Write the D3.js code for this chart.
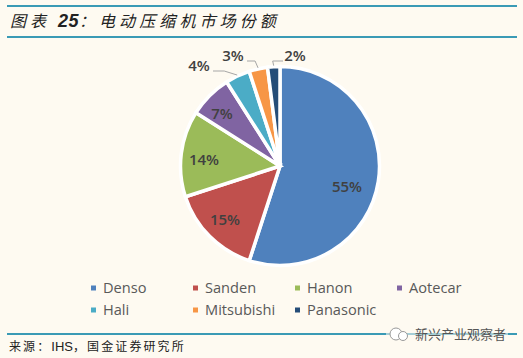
<!DOCTYPE html>
<meta charset="utf-8">
<script src="https://d3js.org/d3.v7.js"></script>
<style>
  html, body { margin: 0; padding: 0; background: #fefaf1; overflow: hidden; }
</style>
<div id="my_dataviz"></div>
<script>
  const names = ["Denso", "Sanden", "Hanon", "Aotecar", "Hali", "Mitsubishi", "Panasonic"]
  const shares = [55, 15, 14, 7, 4, 3, 2]
  const colors = ["#4f81bd", "#c0504d", "#9bbb59", "#8064a2", "#4bacc6", "#f79646", "#254d78"]
  const titleParts = ["图表 ", "25", "\uFF1A电动压缩机市场份额"]
  const sourceParts = ["来源\uFF1A", "IHS", "\uFF0C国金证券研究所"]
  const markText = "新兴产业观察者"

  const width = 523, height = 358
  const center = [280, 166], radius = 99.5
  const txt = "#404040"
  const rule = "#3a9ab5"
  const cjk = "'Noto Sans CJK SC'"

  const svg = d3.select("#my_dataviz").append("svg")
    .attr("width", width).attr("height", height)
    .style("display", "block")

  // header and footer rules
  svg.selectAll("line.rule")
    .data([6, 37, 334])
    .join("line")
      .attr("class", "rule")
      .attr("x1", 7).attr("x2", 517)
      .attr("y1", d => d).attr("y2", d => d)
      .attr("stroke", rule).attr("stroke-width", 2)

  // title, the number is set bigger and bold
  const title = svg.append("text")
    .attr("x", 10).attr("y", 27)
    .attr("font-family", cjk)
    .attr("font-size", 16).attr("font-style", "italic")
    .attr("letter-spacing", 4.1)
    .attr("fill", "#222")
  title.append("tspan").text(titleParts[0])
  title.append("tspan")
    .attr("font-family", "'Liberation Sans'").attr("font-weight", 700)
    .attr("font-size", 18).attr("letter-spacing", 0.5)
    .text(titleParts[1])
  title.append("tspan").text(titleParts[2])

  // pie
  const pie = d3.pie().sort(null).value(d => d)
  const arc = d3.arc().innerRadius(0).outerRadius(radius)
  const slices = pie(shares)
  const g = svg.append("g").attr("transform", `translate(${center[0]},${center[1]})`)

  g.selectAll("path.slice")
    .data(slices)
    .join("path")
      .attr("class", "slice")
      .attr("d", arc)
      .attr("fill", (d, i) => colors[i])
      .attr("stroke", "#fff").attr("stroke-width", 3.5)

  // big slices carry the label inside, small ones get a leader line
  const insidePos = [[67, 21], [-55, 54], [-76, -6], [-58, -52]]
  const outerPos = [[-81, -100], [-47, -110], [15, -110]]
  const leaderEnd = [[-67, -95], [-33, -105], [3, -105]]
  const elbowDx = [-13, -3, -1]

  const pct = sel => sel
    .attr("text-anchor", "middle")
    .attr("font-family", "'Open Sans'")
    .attr("font-size", 15).attr("font-weight", 600)
    .attr("fill", txt)
    .text(d => d.value + "%")

  g.selectAll("text.inner")
    .data(slices.slice(0, 4))
    .join("text")
      .attr("class", "inner")
      .attr("x", (d, i) => insidePos[i][0])
      .attr("y", (d, i) => insidePos[i][1] + 5)
      .call(pct)

  const small = slices.slice(4)
  g.selectAll("path.leader")
    .data(small)
    .join("path")
      .attr("class", "leader")
      .attr("fill", "none").attr("stroke", "#a6a6a6").attr("stroke-width", 1)
      .attr("d", (d, i) => {
        const a = (d.startAngle + d.endAngle) / 2
        const tip = [Math.sin(a) * (radius + 1), -Math.cos(a) * (radius + 1)]
        const end = leaderEnd[i]
        return d3.line()([tip, [tip[0] + elbowDx[i], end[1]], end])
      })
  g.selectAll("text.outer")
    .data(small)
    .join("text")
      .attr("class", "outer")
      .attr("x", (d, i) => outerPos[i][0])
      .attr("y", (d, i) => outerPos[i][1] + 5)
      .call(pct)

  // legend, two rows of four columns
  const colX = d3.scalePoint().domain([0, 1, 2, 3]).range([93, 399])
  const rowY = d3.scalePoint().domain([0, 1]).range([288, 310])
  const legend = svg.selectAll("g.legend")
    .data(names)
    .join("g")
      .attr("class", "legend")
      .attr("transform", (d, i) => `translate(${colX(i % 4)},${rowY(Math.floor(i / 4))})`)
  legend.append("rect")
    .attr("x", -2).attr("y", -2.5).attr("width", 5).attr("height", 5)
    .attr("fill", (d, i) => colors[i])
  legend.append("text")
    .attr("x", 10).attr("y", 5)
    .attr("font-family", "'Open Sans'")
    .attr("font-size", 14.6)
    .attr("fill", "#595959")
    .text(d => d)

  // source line
  const source = svg.append("text")
    .attr("x", 9).attr("y", 351)
    .attr("font-family", cjk)
    .attr("font-size", 12).attr("letter-spacing", 2.1)
    .attr("fill", "#222")
  source.append("tspan").text(sourceParts[0])
  source.append("tspan")
    .attr("font-family", "'Liberation Sans'").attr("font-size", 13).attr("letter-spacing", 0)
    .text(sourceParts[1])
  source.append("tspan").text(sourceParts[2])

  // watermark
  svg.append("rect").attr("x", 386).attr("y", 324).attr("width", 122).attr("height", 20).attr("fill", "#fefaf1").attr("opacity", 0.55)
  svg.append("circle").attr("cx", 396).attr("cy", 334).attr("r", 6).attr("fill", "#fff").attr("stroke", "#999").attr("stroke-width", 1)
  svg.append("circle").attr("cx", 403).attr("cy", 336).attr("r", 4.5).attr("fill", "#fff").attr("stroke", "#999").attr("stroke-width", 1)
  svg.append("text")
    .attr("x", 415).attr("y", 339)
    .attr("font-family", cjk)
    .attr("font-size", 13)
    .attr("fill", "#555")
    .text(markText)
</script>
